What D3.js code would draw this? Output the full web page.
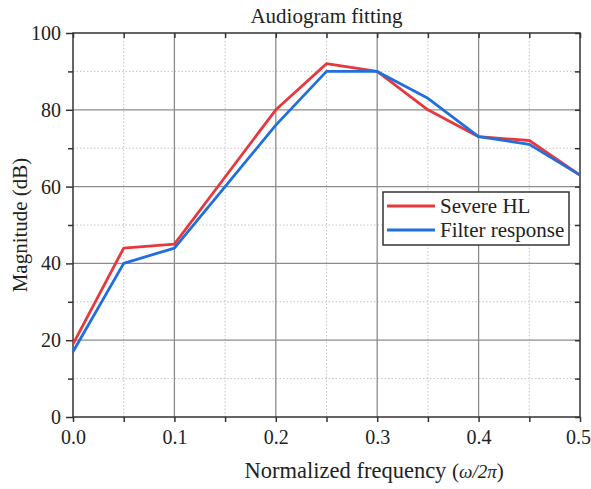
<!DOCTYPE html>
<html>
<head>
<meta charset="utf-8">
<script src="https://cdn.jsdelivr.net/npm/d3@7"></script>
<style>
  html, body { margin: 0; padding: 0; background: #fff; }
  svg { display: block; }
  text { font-family: "Liberation Serif", "Times New Roman", serif; fill: #222; }
</style>
</head>
<body>
<svg id="chart" width="591" height="489"></svg>
<script>
// Normalized frequency samples
const freq = [0, 0.05, 0.1, 0.15, 0.2, 0.25, 0.3, 0.35, 0.4, 0.45, 0.5];
// Target audiogram (severe hearing loss), dB
const severeHL = [19, 44, 45, 62.5, 80, 92, 90, 80, 73, 72, 63];
// Designed filter magnitude response, dB
const filterResp = [17, 40, 44, 60, 76, 90, 90, 83, 73, 71, 63];

const xMajor = [0, 0.1, 0.2, 0.3, 0.4, 0.5];
const xMinor = [0.05, 0.15, 0.25, 0.35, 0.45];
const yMajor = [0, 20, 40, 60, 80, 100];
const yMinor = [10, 30, 50, 70, 90];

const seriesNames = ["Severe HL", "Filter response"];
const seriesColors = ["#e8383d", "#1f6fdc"];

const svg = d3.select("#chart");
const margin = { left: 73, right: 11, top: 33, bottom: 72 };
const W = 591, H = 489;

const x = d3.scaleLinear().domain([0, 0.5]).range([margin.left, W - margin.right]);
const y = d3.scaleLinear().domain([0, 100]).range([H - margin.bottom, margin.top]);

const x0 = x.range()[0], x1 = x.range()[1];
const y0 = y.range()[0], y1 = y.range()[1];

// Grid: dotted minor, solid major
const grid = svg.append("g");
grid.selectAll(".xminor").data(xMinor).join("line")
  .attr("x1", d => x(d)).attr("x2", d => x(d)).attr("y1", y0).attr("y2", y1)
  .attr("stroke", "#c4c4c4").attr("stroke-width", 1).attr("stroke-dasharray", "1.5,2");
grid.selectAll(".yminor").data(yMinor).join("line")
  .attr("y1", d => y(d)).attr("y2", d => y(d)).attr("x1", x0).attr("x2", x1)
  .attr("stroke", "#c4c4c4").attr("stroke-width", 1).attr("stroke-dasharray", "1.5,2");
grid.selectAll(".xmajor").data(xMajor.slice(1, -1)).join("line")
  .attr("x1", d => x(d)).attr("x2", d => x(d)).attr("y1", y0).attr("y2", y1)
  .attr("stroke", "#8c8c8c").attr("stroke-width", 1.3);
grid.selectAll(".ymajor").data(yMajor.slice(1, -1)).join("line")
  .attr("y1", d => y(d)).attr("y2", d => y(d)).attr("x1", x0).attr("x2", x1)
  .attr("stroke", "#8c8c8c").attr("stroke-width", 1.3);

// Frame
svg.append("rect")
  .attr("x", x0).attr("y", y1).attr("width", x1 - x0).attr("height", y0 - y1)
  .attr("fill", "none").attr("stroke", "#333").attr("stroke-width", 1.5);

// Axes
const axisFont = 20;
const xAxis = svg.append("g").attr("transform", `translate(0,${y0})`)
  .call(d3.axisBottom(x).tickValues(xMajor).tickFormat(d3.format(".1f")).tickSize(5).tickPadding(8));
const yAxis = svg.append("g").attr("transform", `translate(${x0},0)`)
  .call(d3.axisLeft(y).tickValues(yMajor).tickSize(7).tickPadding(5));
[xAxis, yAxis].forEach(g => {
  g.select(".domain").remove();
  g.selectAll(".tick line").attr("stroke", "#333").attr("stroke-width", 1.5);
  g.selectAll(".tick text").attr("font-size", axisFont)
    .attr("font-family", "Liberation Serif, Times New Roman, serif").attr("fill", "#222");
});
// keep the last x label inside the page edge
xAxis.selectAll(".tick text").filter(d => d === 0.5).attr("dx", -2);

// Minor ticks on the outer axes
svg.append("g").attr("transform", `translate(0,${y0})`)
  .call(d3.axisBottom(x).tickValues(xMinor).tickSize(5).tickFormat(""))
  .call(g => g.select(".domain").remove())
  .call(g => g.selectAll("line").attr("stroke", "#333").attr("stroke-width", 1.5));
svg.append("g").attr("transform", `translate(${x0},0)`)
  .call(d3.axisLeft(y).tickValues(yMinor).tickSize(5).tickFormat(""))
  .call(g => g.select(".domain").remove())
  .call(g => g.selectAll("line").attr("stroke", "#333").attr("stroke-width", 1.5));

// Mirrored inward ticks on top and right
svg.append("g").attr("transform", `translate(0,${y1})`)
  .call(d3.axisTop(x).tickValues(xMajor.concat(xMinor)).tickSize(-5).tickFormat(""))
  .call(g => g.select(".domain").remove())
  .call(g => g.selectAll("line").attr("stroke", "#333").attr("stroke-width", 1.5));
svg.append("g").attr("transform", `translate(${x1},0)`)
  .call(d3.axisRight(y).tickValues(yMajor.concat(yMinor)).tickSize(-5).tickFormat(""))
  .call(g => g.select(".domain").remove())
  .call(g => g.selectAll("line").attr("stroke", "#333").attr("stroke-width", 1.5));

// Curves
const line = d3.line().x(d => x(d[0])).y(d => y(d[1]));
const series = [severeHL, filterResp];
series.forEach((vals, i) => {
  svg.append("path")
    .datum(freq.map((f, k) => [f, vals[k]]))
    .attr("d", line)
    .attr("fill", "none")
    .attr("stroke", seriesColors[i])
    .attr("stroke-width", 2.8)
    .attr("stroke-linejoin", "round");
});

// Title
svg.append("text")
  .attr("x", (x0 + x1) / 2).attr("y", 23)
  .attr("text-anchor", "middle").attr("font-size", 21)
  .text("Audiogram fitting");

// Axis titles
svg.append("text")
  .attr("transform", `translate(27,${(y0 + y1) / 2}) rotate(-90)`)
  .attr("text-anchor", "middle").attr("font-size", 21)
  .text("Magnitude (dB)");

const xl = svg.append("text")
  .attr("x", x(0.297)).attr("y", 478)
  .attr("text-anchor", "middle").attr("font-size", 22.5);
xl.append("tspan").text("Normalized frequency ");
xl.append("tspan").attr("font-size", 21).text("(");
xl.append("tspan").attr("font-style", "italic").attr("font-size", 19).text("ω/2π");
xl.append("tspan").attr("font-size", 21).text(")");

// Legend
const lg = svg.append("g").attr("transform", "translate(383,192)");
lg.append("rect").attr("width", 186).attr("height", 53)
  .attr("fill", "#fff").attr("stroke", "#333").attr("stroke-width", 1.5);
seriesNames.forEach((name, i) => {
  const yy = 14 + i * 24;
  lg.append("line").attr("x1", 4).attr("x2", 52).attr("y1", yy).attr("y2", yy)
    .attr("stroke", seriesColors[i]).attr("stroke-width", 2.8);
  lg.append("text").attr("x", 57).attr("y", yy + 7).attr("font-size", 21).text(name);
});
</script>
</body>
</html>
